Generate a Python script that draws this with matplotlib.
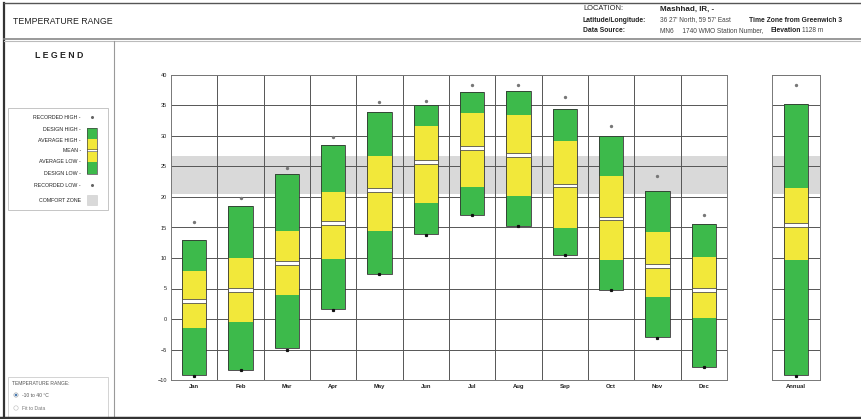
import numpy as np
import matplotlib.pyplot as plt
from matplotlib.patches import Rectangle, Circle

plt.rcParams['font.family'] = ['Liberation Sans', 'DejaVu Sans']

# Monthly temperature statistics for Mashhad (deg C)
months = ['Jan', 'Feb', 'Mar', 'Apr', 'May', 'Jun',
          'Jul', 'Aug', 'Sep', 'Oct', 'Nov', 'Dec']
recorded_high = [15.9, 19.8, 24.7, 29.8, 35.5, 35.8, 38.3, 38.3, 36.4, 31.6, 23.5, 17.0]
design_high = [13.0, 18.6, 23.8, 28.6, 34.0, 35.0, 37.2, 37.3, 34.4, 30.0, 21.0, 15.6]
average_high = [7.9, 10.0, 14.4, 20.8, 26.7, 31.7, 33.8, 33.4, 29.1, 23.5, 14.2, 10.1]
mean_temp = [3.0, 4.7, 9.2, 15.7, 21.1, 25.7, 28.0, 26.9, 21.9, 16.5, 8.7, 4.8]
average_low = [-1.4, -0.5, 4.0, 9.8, 14.5, 19.0, 21.6, 20.1, 14.9, 9.7, 3.6, 0.1]
design_low = [-9.2, -8.3, -4.8, 1.6, 7.4, 13.9, 17.1, 15.2, 10.5, 4.8, -3.0, -7.8]
recorded_low = [-9.3, -8.4, -5.0, 1.4, 7.3, 13.8, 17.0, 15.2, 10.5, 4.8, -3.1, -7.9]

# Whole-year values
annual = {'recorded_high': 38.3, 'design_high': 35.2, 'average_high': 21.4,
          'mean': 15.4, 'average_low': 9.7, 'design_low': -9.2, 'recorded_low': -9.3}

comfort_low, comfort_high = 20.5, 26.7
yticks = list(range(-10, 45, 5))

GREEN = '#3dba4b'
YELLOW = '#f2e83a'
GRID = '#555555'
COMFORT = '#d9d9d9'

W, H = 862, 419
fig = plt.figure(figsize=(W / 100, H / 100), dpi=100)

# page furniture drawn in pixel coordinates
bg = fig.add_axes([0, 0, 1, 1], zorder=0)
bg.set_xlim(0, W)
bg.set_ylim(H, 0)
bg.axis('off')
bg.plot([4, 4], [3, 417], color='#333', lw=1.6)
bg.plot([4, W], [3, 3], color='#555', lw=1.0)
bg.plot([4, W], [39, 39], color='#888', lw=1.2)
bg.plot([4, W], [41, 41], color='#bbb', lw=0.8)
bg.plot([114, 114], [41, 417], color='#999', lw=0.8)
bg.plot([0, W], [417.5, 417.5], color='#333', lw=2.5)

bg.text(13, 22, 'TEMPERATURE RANGE', fontsize=6.3, va='center', color='#222')
bg.text(583, 9, 'LOCATION:', fontsize=5.4, va='center', color='#222')
bg.text(660, 9, 'Mashhad, IR, -', fontsize=5.8, va='center', weight='bold', color='#222')
bg.text(583, 20, 'Latitude/Longitude:', fontsize=4.9, va='center', weight='bold', color='#222')
bg.text(660, 20, "36 27' North, 59 57' East", fontsize=4.7, va='center', color='#444')
bg.text(749, 20, 'Time Zone from Greenwich 3', fontsize=4.9, va='center', weight='bold', color='#222')
bg.text(583, 31, 'Data Source:', fontsize=4.9, va='center', weight='bold', color='#222')
bg.text(660, 31, 'MN6     1740 WMO Station Number,', fontsize=4.7, va='center', color='#444')
bg.text(771, 31, 'Elevation', fontsize=4.9, va='center', weight='bold', color='#222')
bg.text(802, 31, '1128 m', fontsize=4.7, va='center', color='#444')

# legend panel
bg.text(59, 55, 'L E G E N D', fontsize=6.3, ha='center', va='center', weight='bold', color='#222')
bg.add_patch(Rectangle((8, 108), 100, 102, fill=False, ec='#bbb', lw=0.6))
legend_rows = [('RECORDED HIGH -', 117), ('DESIGN HIGH -', 129), ('AVERAGE HIGH -', 140),
               ('MEAN -', 150.5), ('AVERAGE LOW -', 161), ('DESIGN LOW -', 173),
               ('RECORDED LOW -', 185)]
for label, y in legend_rows:
    bg.text(81, y, label, fontsize=3.8, ha='right', va='center', color='#222')
bg.text(81, 200, 'COMFORT ZONE', fontsize=3.8, ha='right', va='center', color='#222')
bg.plot([92, 92], [117, 185], 'o', ms=1.2, color='#666')
for top, bot, col in [(128, 139, GREEN), (139, 149.5, YELLOW), (151.5, 162, YELLOW), (162, 174, GREEN)]:
    bg.add_patch(Rectangle((87, top), 10, bot - top, fc=col, ec='none'))
bg.add_patch(Rectangle((87, 128), 10, 46, fill=False, ec='#444', lw=0.5))
bg.plot([87, 97], [149.5, 149.5], color='#444', lw=0.4)
bg.plot([87, 97], [151.5, 151.5], color='#444', lw=0.4)
bg.add_patch(Rectangle((87, 195), 10, 10, fc=COMFORT, ec='#ccc', lw=0.4))

# temperature range selector
bg.add_patch(Rectangle((8, 377), 100, 40, fill=False, ec='#ccc', lw=0.6))
bg.text(12, 383, 'TEMPERATURE RANGE:', fontsize=3.6, va='center', color='#555')
bg.add_patch(Circle((16, 395), 2.2, fc='#dfe8f2', ec='#aaa', lw=0.4))
bg.add_patch(Circle((16, 395), 1.1, fc='#3a6ea8', ec='none'))
bg.text(22, 395, '-10 to 40 \u00b0C', fontsize=3.6, va='center', color='#555')
bg.add_patch(Circle((16, 408), 2.2, fc='white', ec='#bbb', lw=0.4))
bg.text(22, 408, 'Fit to Data', fontsize=3.6, va='center', color='#777')


def style_axes(ax, ncols):
    ax.set_ylim(-10, 40)
    ax.set_xlim(0, ncols)
    ax.axhspan(comfort_low, comfort_high, color=COMFORT, zorder=0, lw=0)
    for y in yticks:
        ax.axhline(y, color=GRID, lw=0.7, zorder=1)
    for x in range(1, ncols):
        ax.axvline(x, color=GRID, lw=0.7, zorder=1)
    for s in ax.spines.values():
        s.set_color('#777')
        s.set_linewidth(0.7)
    ax.tick_params(length=0, labelsize=4, pad=3, colors='#222')


def draw_ranges(ax, x, rh, dh, ah, mn, al, dl, rl, width):
    dh, ah, mn, al, dl = map(np.asarray, (dh, ah, mn, al, dl))
    ax.bar(x, al - dl, width, bottom=dl, color=GREEN, zorder=2)
    ax.bar(x, ah - al, width, bottom=al, color=YELLOW, zorder=2)
    ax.bar(x, dh - ah, width, bottom=ah, color=GREEN, zorder=2)
    ax.bar(x, dh - dl, width, bottom=dl, fill=False, edgecolor='#333', lw=0.6, zorder=3)
    ax.bar(x, 0.6, width, bottom=mn - 0.3, color='white', edgecolor='#444', lw=0.55, zorder=3)
    ax.plot(x, rh, 'o', ms=1.4, color='#777', zorder=4, ls='none')
    ax.plot(x, rl, 's', ms=1.3, color='#111', zorder=4, ls='none')


ax = fig.add_axes([171 / W, 1 - 380 / H, 556 / W, 305 / H])
style_axes(ax, 12)
xpos = np.arange(12) + 0.5
draw_ranges(ax, xpos, recorded_high, design_high, average_high, mean_temp,
            average_low, design_low, recorded_low, 0.52)
ax.set_yticks(yticks)
ax.set_xticks(xpos)
ax.set_xticklabels(months, fontsize=4.2, weight='bold')

axa = fig.add_axes([772 / W, 1 - 380 / H, 48 / W, 305 / H])
style_axes(axa, 1)
draw_ranges(axa, [0.5], [annual['recorded_high']], [annual['design_high']],
            [annual['average_high']], [annual['mean']], [annual['average_low']],
            [annual['design_low']], [annual['recorded_low']], 0.48)
axa.set_yticks([])
axa.set_xticks([0.5])
axa.set_xticklabels(['Annual'], fontsize=4.2, weight='bold')

fig.savefig('out.png', dpi=100)
